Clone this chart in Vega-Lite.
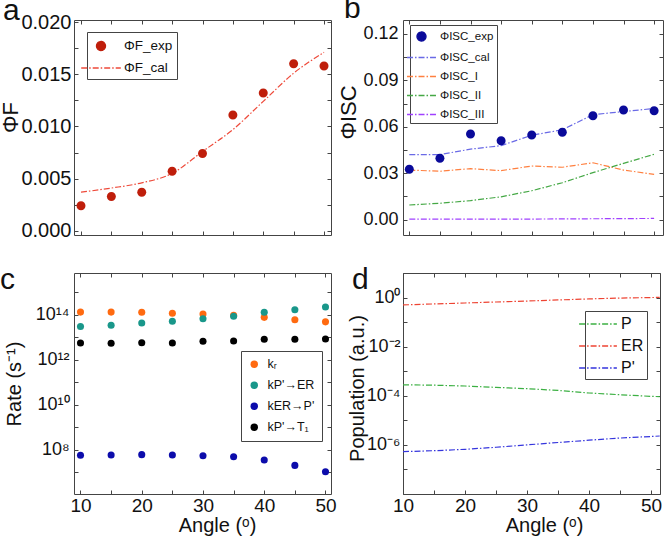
{
  "$schema": "https://vega.github.io/schema/vega-lite/v6.json",
  "autosize": {"type": "none"},
  "padding": {"left": 74, "top": 20, "right": 590, "bottom": 516},
  "config": {
    "font": "Liberation Sans",
    "view": {"stroke": "#444", "strokeWidth": 1},
    "axis": {"domain": false, "grid": false, "tickSize": -4, "tickColor": "#444", "tickWidth": 1, "labelFontSize": 19, "labelColor": "#111", "titleFontSize": 20, "titleFontWeight": "normal", "titleColor": "#111", "labelFont": "Liberation Sans", "titleFont": "Liberation Sans", "labelFlush": false, "labelOverlap": false},
    "legend": {"strokeColor": "#444", "fillColor": "#ffffff", "labelFont": "Liberation Sans", "labelColor": "#111", "labelLimit": 300},
    "title": {"font": "Liberation Sans", "fontSize": 30, "fontWeight": "normal", "color": "#111", "anchor": "start", "frame": "group", "baseline": "alphabetic"}
  },
  "datasets": {
    "a": [
      {"angle": 10, "series": "ΦF_exp", "value": 0.0024}, {"angle": 15, "series": "ΦF_exp", "value": 0.0033}, {"angle": 20, "series": "ΦF_exp", "value": 0.0037}, {"angle": 25, "series": "ΦF_exp", "value": 0.0057}, {"angle": 30, "series": "ΦF_exp", "value": 0.0074}, {"angle": 35, "series": "ΦF_exp", "value": 0.0111}, {"angle": 40, "series": "ΦF_exp", "value": 0.0132}, {"angle": 45, "series": "ΦF_exp", "value": 0.0160}, {"angle": 50, "series": "ΦF_exp", "value": 0.0158},
      {"angle": 10, "series": "ΦF_cal", "value": 0.0037}, {"angle": 15, "series": "ΦF_cal", "value": 0.0041}, {"angle": 20, "series": "ΦF_cal", "value": 0.0046}, {"angle": 25, "series": "ΦF_cal", "value": 0.0055}, {"angle": 30, "series": "ΦF_cal", "value": 0.0076}, {"angle": 35, "series": "ΦF_cal", "value": 0.0097}, {"angle": 40, "series": "ΦF_cal", "value": 0.0124}, {"angle": 45, "series": "ΦF_cal", "value": 0.0151}, {"angle": 50, "series": "ΦF_cal", "value": 0.0171}
    ],
    "b": [
      {"angle": 10, "series": "ΦISC_exp", "value": 0.0325}, {"angle": 15, "series": "ΦISC_exp", "value": 0.0396}, {"angle": 20, "series": "ΦISC_exp", "value": 0.0553}, {"angle": 25, "series": "ΦISC_exp", "value": 0.0510}, {"angle": 30, "series": "ΦISC_exp", "value": 0.0546}, {"angle": 35, "series": "ΦISC_exp", "value": 0.0564}, {"angle": 40, "series": "ΦISC_exp", "value": 0.0671}, {"angle": 45, "series": "ΦISC_exp", "value": 0.0708}, {"angle": 50, "series": "ΦISC_exp", "value": 0.0703},
      {"angle": 10, "series": "ΦISC_cal", "value": 0.0420}, {"angle": 15, "series": "ΦISC_cal", "value": 0.0420}, {"angle": 20, "series": "ΦISC_cal", "value": 0.0455}, {"angle": 25, "series": "ΦISC_cal", "value": 0.0478}, {"angle": 30, "series": "ΦISC_cal", "value": 0.0545}, {"angle": 35, "series": "ΦISC_cal", "value": 0.0580}, {"angle": 40, "series": "ΦISC_cal", "value": 0.0678}, {"angle": 45, "series": "ΦISC_cal", "value": 0.0698}, {"angle": 50, "series": "ΦISC_cal", "value": 0.0718},
      {"angle": 10, "series": "ΦISC_I", "value": 0.0320}, {"angle": 15, "series": "ΦISC_I", "value": 0.0312}, {"angle": 20, "series": "ΦISC_I", "value": 0.0329}, {"angle": 25, "series": "ΦISC_I", "value": 0.0316}, {"angle": 30, "series": "ΦISC_I", "value": 0.0346}, {"angle": 35, "series": "ΦISC_I", "value": 0.0338}, {"angle": 40, "series": "ΦISC_I", "value": 0.0367}, {"angle": 45, "series": "ΦISC_I", "value": 0.0320}, {"angle": 50, "series": "ΦISC_I", "value": 0.0292},
      {"angle": 10, "series": "ΦISC_II", "value": 0.0094}, {"angle": 15, "series": "ΦISC_II", "value": 0.0105}, {"angle": 20, "series": "ΦISC_II", "value": 0.0122}, {"angle": 25, "series": "ΦISC_II", "value": 0.0147}, {"angle": 30, "series": "ΦISC_II", "value": 0.0186}, {"angle": 35, "series": "ΦISC_II", "value": 0.0238}, {"angle": 40, "series": "ΦISC_II", "value": 0.0303}, {"angle": 45, "series": "ΦISC_II", "value": 0.0363}, {"angle": 50, "series": "ΦISC_II", "value": 0.0422},
      {"angle": 10, "series": "ΦISC_III", "value": 0.0002}, {"angle": 15, "series": "ΦISC_III", "value": 0.0002}, {"angle": 20, "series": "ΦISC_III", "value": 0.0003}, {"angle": 25, "series": "ΦISC_III", "value": 0.0003}, {"angle": 30, "series": "ΦISC_III", "value": 0.0003}, {"angle": 35, "series": "ΦISC_III", "value": 0.0004}, {"angle": 40, "series": "ΦISC_III", "value": 0.0005}, {"angle": 45, "series": "ΦISC_III", "value": 0.0006}, {"angle": 50, "series": "ΦISC_III", "value": 0.0007}
    ],
    "c": [
      {"angle": 10, "series": "kᵣ", "value": 1.3e14}, {"angle": 15, "series": "kᵣ", "value": 1.3e14}, {"angle": 20, "series": "kᵣ", "value": 1.28e14}, {"angle": 25, "series": "kᵣ", "value": 1.15e14}, {"angle": 30, "series": "kᵣ", "value": 1.07e14}, {"angle": 35, "series": "kᵣ", "value": 9.4e13}, {"angle": 40, "series": "kᵣ", "value": 7.6e13}, {"angle": 45, "series": "kᵣ", "value": 6.0e13}, {"angle": 50, "series": "kᵣ", "value": 4.8e13},
      {"angle": 10, "series": "kP'→ER", "value": 3.0e13}, {"angle": 15, "series": "kP'→ER", "value": 3.4e13}, {"angle": 20, "series": "kP'→ER", "value": 4.3e13}, {"angle": 25, "series": "kP'→ER", "value": 5.1e13}, {"angle": 30, "series": "kP'→ER", "value": 6.6e13}, {"angle": 35, "series": "kP'→ER", "value": 8.5e13}, {"angle": 40, "series": "kP'→ER", "value": 1.29e14}, {"angle": 45, "series": "kP'→ER", "value": 1.66e14}, {"angle": 50, "series": "kP'→ER", "value": 2.2e14},
      {"angle": 10, "series": "kER→P'", "value": 5.6e7}, {"angle": 15, "series": "kER→P'", "value": 5.8e7}, {"angle": 20, "series": "kER→P'", "value": 6.0e7}, {"angle": 25, "series": "kER→P'", "value": 5.8e7}, {"angle": 30, "series": "kER→P'", "value": 5.4e7}, {"angle": 35, "series": "kER→P'", "value": 4.8e7}, {"angle": 40, "series": "kER→P'", "value": 3.5e7}, {"angle": 45, "series": "kER→P'", "value": 2.0e7}, {"angle": 50, "series": "kER→P'", "value": 1.05e7},
      {"angle": 10, "series": "kP'→T₁", "value": 5.5e12}, {"angle": 15, "series": "kP'→T₁", "value": 5.4e12}, {"angle": 20, "series": "kP'→T₁", "value": 5.7e12}, {"angle": 25, "series": "kP'→T₁", "value": 5.5e12}, {"angle": 30, "series": "kP'→T₁", "value": 6.6e12}, {"angle": 35, "series": "kP'→T₁", "value": 6.8e12}, {"angle": 40, "series": "kP'→T₁", "value": 8.1e12}, {"angle": 45, "series": "kP'→T₁", "value": 8.1e12}, {"angle": 50, "series": "kP'→T₁", "value": 8.3e12}
    ],
    "d": [
      {"angle": 10, "series": "P", "value": 2.8e-4}, {"angle": 15, "series": "P", "value": 2.7e-4}, {"angle": 20, "series": "P", "value": 2.5e-4}, {"angle": 25, "series": "P", "value": 2.2e-4}, {"angle": 30, "series": "P", "value": 1.95e-4}, {"angle": 35, "series": "P", "value": 1.65e-4}, {"angle": 40, "series": "P", "value": 1.3e-4}, {"angle": 45, "series": "P", "value": 1.1e-4}, {"angle": 50, "series": "P", "value": 9.5e-5}, {"angle": 51.4, "series": "P", "value": 9.2e-5},
      {"angle": 10, "series": "ER", "value": 0.5}, {"angle": 15, "series": "ER", "value": 0.55}, {"angle": 20, "series": "ER", "value": 0.6}, {"angle": 25, "series": "ER", "value": 0.66}, {"angle": 30, "series": "ER", "value": 0.72}, {"angle": 35, "series": "ER", "value": 0.8}, {"angle": 40, "series": "ER", "value": 0.88}, {"angle": 45, "series": "ER", "value": 0.95}, {"angle": 50, "series": "ER", "value": 1.0}, {"angle": 51.4, "series": "ER", "value": 1.02},
      {"angle": 10, "series": "P'", "value": 5.3e-7}, {"angle": 15, "series": "P'", "value": 5.8e-7}, {"angle": 20, "series": "P'", "value": 6.6e-7}, {"angle": 25, "series": "P'", "value": 8.0e-7}, {"angle": 30, "series": "P'", "value": 1.0e-6}, {"angle": 35, "series": "P'", "value": 1.25e-6}, {"angle": 40, "series": "P'", "value": 1.55e-6}, {"angle": 45, "series": "P'", "value": 1.9e-6}, {"angle": 50, "series": "P'", "value": 2.2e-6}, {"angle": 51.4, "series": "P'", "value": 2.3e-6}
    ]
  },
  "columns": 2,
  "spacing": {"row": 38, "column": 72},
  "bounds": "flush",
  "resolve": {
    "scale": {"color": "independent", "shape": "independent", "strokeDash": "independent", "size": "independent"},
    "legend": {"color": "independent", "shape": "independent", "strokeDash": "independent", "size": "independent"}
  },
  "concat": [
    {
      "width": 257, "height": 215,
      "title": {"text": "a", "dx": -71, "offset": -13, "dy": 1},
      "data": {"name": "a"},
      "resolve": {"axis": {"x": "independent", "y": "independent"}},
      "layer": [
        {
          "transform": [{"filter": "datum.series === 'ΦF_cal'"}],
          "mark": {"type": "line", "strokeWidth": 1.2, "interpolate": "monotone"},
          "encoding": {
            "x": {"field": "angle", "type": "quantitative", "scale": {"domain": [8.85, 51.15]}, "axis": {"orient": "top", "labels": false, "title": null, "values": [10, 15, 20, 25, 30, 35, 40, 45, 50]}},
            "y": {"field": "value", "type": "quantitative", "scale": {"domain": [-0.0004, 0.0202]}, "axis": {"orient": "right", "labels": false, "title": null, "values": [0, 0.0025, 0.005, 0.0075, 0.01, 0.0125, 0.015, 0.0175, 0.02]}},
            "color": {"field": "series", "type": "nominal", "scale": {"domain": ["ΦF_exp", "ΦF_cal"], "range": ["#bf1e0b", "#ee4a3a"]}, "legend": {"title": null, "orient": "none", "legendX": 13, "legendY": 12, "padding": 4, "rowPadding": 4, "labelFontSize": 13.5, "symbolSize": 324, "symbolStrokeWidth": 1.3, "labelOffset": 13}},
            "strokeDash": {"field": "series", "type": "nominal", "scale": {"domain": ["ΦF_exp", "ΦF_cal"], "range": [[1, 0], [6, 2, 1.5, 2]]}, "legend": {"title": null, "orient": "none", "legendX": 13, "legendY": 12, "padding": 4, "rowPadding": 4, "labelFontSize": 13.5, "symbolSize": 324, "symbolStrokeWidth": 1.3, "labelOffset": 13}}
          }
        },
        {
          "transform": [{"filter": "datum.series === 'ΦF_exp'"}],
          "mark": {"type": "point", "filled": true, "opacity": 1, "size": 324},
          "encoding": {
            "x": {"field": "angle", "type": "quantitative", "scale": {"domain": [8.85, 51.15]}, "axis": {"orient": "bottom", "labels": false, "title": null, "values": [10, 15, 20, 25, 30, 35, 40, 45, 50]}},
            "y": {"field": "value", "type": "quantitative", "scale": {"domain": [-0.0004, 0.0202]}, "axis": {"orient": "left", "values": [0, 0.0025, 0.005, 0.0075, 0.01, 0.0125, 0.015, 0.0175, 0.02], "labelExpr": "round(datum.value*1000) % 5 === 0 ? format(datum.value, '.3f') : ''", "labelFontSize": 20, "labelPadding": 7, "title": "ΦF", "titleX": -64, "titleY": 97, "titleBaseline": "middle", "titleFontSize": 22}},
            "color": {"field": "series", "type": "nominal", "scale": {"domain": ["ΦF_exp", "ΦF_cal"], "range": ["#bf1e0b", "#ee4a3a"]}, "legend": {"title": null, "orient": "none", "legendX": 13, "legendY": 12, "padding": 4, "rowPadding": 4, "labelFontSize": 13.5, "symbolSize": 324, "symbolStrokeWidth": 1.3, "labelOffset": 13}},
            "shape": {"field": "series", "type": "nominal", "scale": {"domain": ["ΦF_exp", "ΦF_cal"], "range": ["M0.5,0A0.5,0.5,0,1,1,-0.5,0A0.5,0.5,0,1,1,0.5,0Z", "M-2.2,0L2.2,0"]}, "legend": {"title": null, "orient": "none", "legendX": 13, "legendY": 12, "padding": 4, "rowPadding": 4, "labelFontSize": 13.5, "symbolSize": 324, "symbolStrokeWidth": 1.3, "labelOffset": 13}}
          }
        }
      ]
    },
    {
      "width": 260, "height": 215,
      "title": {"text": "b", "dx": -59, "offset": -8, "dy": -4},
      "data": {"name": "b"},
      "resolve": {"axis": {"x": "independent", "y": "independent"}},
      "layer": [
        {
          "transform": [{"filter": "datum.series !== 'ΦISC_exp'"}],
          "mark": {"type": "line", "strokeWidth": 1.2},
          "encoding": {
            "x": {"field": "angle", "type": "quantitative", "scale": {"domain": [8.97, 51.45]}, "axis": {"orient": "top", "labels": false, "title": null, "values": [10, 15, 20, 25, 30, 35, 40, 45, 50]}},
            "y": {"field": "value", "type": "quantitative", "scale": {"domain": [-0.01, 0.129]}, "axis": {"orient": "right", "labels": false, "title": null, "values": [0, 0.015, 0.03, 0.045, 0.06, 0.075, 0.09, 0.105, 0.12]}},
            "color": {"field": "series", "type": "nominal", "scale": {"domain": ["ΦISC_exp", "ΦISC_cal", "ΦISC_I", "ΦISC_II", "ΦISC_III"], "range": ["#0a0a9a", "#6a6ae6", "#ff8040", "#45a845", "#a040ff"]}, "legend": {"title": null, "orient": "none", "legendX": 7, "legendY": 5, "padding": 3, "rowPadding": 5, "labelFontSize": 11.5, "symbolSize": 225, "symbolStrokeWidth": 1.3, "labelOffset": 10}},
            "strokeDash": {"field": "series", "type": "nominal", "scale": {"domain": ["ΦISC_exp", "ΦISC_cal", "ΦISC_I", "ΦISC_II", "ΦISC_III"], "range": [[1, 0], [6, 2, 1.5, 2], [6, 2, 1.5, 2], [6, 2, 1.5, 2], [6, 2, 1.5, 2]]}, "legend": {"title": null, "orient": "none", "legendX": 7, "legendY": 5, "padding": 3, "rowPadding": 5, "labelFontSize": 11.5, "symbolSize": 225, "symbolStrokeWidth": 1.3, "labelOffset": 10}}
          }
        },
        {
          "transform": [{"filter": "datum.series === 'ΦISC_exp'"}],
          "mark": {"type": "point", "filled": true, "opacity": 1, "size": 225},
          "encoding": {
            "x": {"field": "angle", "type": "quantitative", "scale": {"domain": [8.97, 51.45]}, "axis": {"orient": "bottom", "labels": false, "title": null, "values": [10, 15, 20, 25, 30, 35, 40, 45, 50]}},
            "y": {"field": "value", "type": "quantitative", "scale": {"domain": [-0.01, 0.129]}, "axis": {"orient": "left", "values": [0, 0.015, 0.03, 0.045, 0.06, 0.075, 0.09, 0.105, 0.12], "labelExpr": "round(datum.value*1000) % 30 === 0 ? format(datum.value, '.2f') : ''", "labelFontSize": 18, "labelPadding": 9, "title": "ΦISC", "titleX": -55, "titleY": 92, "titleBaseline": "middle", "titleFontSize": 22}},
            "color": {"field": "series", "type": "nominal", "scale": {"domain": ["ΦISC_exp", "ΦISC_cal", "ΦISC_I", "ΦISC_II", "ΦISC_III"], "range": ["#0a0a9a", "#6a6ae6", "#ff8040", "#45a845", "#a040ff"]}, "legend": {"title": null, "orient": "none", "legendX": 7, "legendY": 5, "padding": 3, "rowPadding": 5, "labelFontSize": 11.5, "symbolSize": 225, "symbolStrokeWidth": 1.3, "labelOffset": 10}},
            "shape": {"field": "series", "type": "nominal", "scale": {"domain": ["ΦISC_exp", "ΦISC_cal", "ΦISC_I", "ΦISC_II", "ΦISC_III"], "range": ["M0.6,0A0.6,0.6,0,1,1,-0.6,0A0.6,0.6,0,1,1,0.6,0Z", "M-1.93,0L1.93,0", "M-1.93,0L1.93,0", "M-1.93,0L1.93,0", "M-1.93,0L1.93,0"]}, "legend": {"title": null, "orient": "none", "legendX": 7, "legendY": 5, "padding": 3, "rowPadding": 5, "labelFontSize": 11.5, "symbolSize": 225, "symbolStrokeWidth": 1.3, "labelOffset": 10}}
          }
        }
      ]
    },
    {
      "width": 257, "height": 221,
      "title": {"text": "c", "dx": -74, "offset": -22},
      "data": {"name": "c"},
      "resolve": {"axis": {"x": "independent", "y": "independent"}},
      "layer": [
        {
          "mark": {"type": "point", "filled": true, "opacity": 1, "size": 50},
          "encoding": {
            "x": {"field": "angle", "type": "quantitative", "scale": {"domain": [8.94, 50.9]}, "axis": {"orient": "bottom", "values": [10, 15, 20, 25, 30, 35, 40, 45, 50], "labelExpr": "datum.value % 10 === 0 ? datum.label : ''", "labelBaseline": "middle", "labelPadding": 15, "title": "Angle (ᵒ)", "titleX": 143, "titleY": 31, "titleBaseline": "middle"}},
            "y": {"field": "value", "type": "quantitative", "scale": {"type": "log", "domain": [1.07e6, 7.13e15]}, "axis": {"orient": "left", "values": [1e7, 1e8, 1e9, 1e10, 1e11, 1e12, 1e13, 1e14, 1e15], "labelExpr": "round(log(datum.value)/LN10) === 14 ? '10¹⁴' : round(log(datum.value)/LN10) === 12 ? '10¹²' : round(log(datum.value)/LN10) === 10 ? '10¹⁰' : round(log(datum.value)/LN10) === 8 ? '10⁸' : ''", "labelFontSize": 18, "labelPadding": 9, "title": "Rate (s⁻¹)", "titleX": -60, "titleBaseline": "middle"}},
            "color": {"field": "series", "type": "nominal", "scale": {"domain": ["kᵣ", "kP'→ER", "kER→P'", "kP'→T₁"], "range": ["#ff6a10", "#19978a", "#0c0cab", "#000000"]}, "legend": {"title": null, "orient": "none", "legendX": 167, "legendY": 78, "padding": 7, "rowPadding": 8, "labelFontSize": 12.5, "symbolSize": 55, "symbolType": "circle", "labelOffset": 7}}
          }
        },
        {
          "mark": {"type": "point", "opacity": 0},
          "encoding": {
            "x": {"field": "angle", "type": "quantitative", "scale": {"domain": [8.94, 50.9]}, "axis": {"orient": "top", "labels": false, "title": null, "values": [10, 15, 20, 25, 30, 35, 40, 45, 50]}},
            "y": {"field": "value", "type": "quantitative", "scale": {"type": "log", "domain": [1.07e6, 7.13e15]}, "axis": {"orient": "right", "labels": false, "title": null, "values": [1e7, 1e8, 1e9, 1e10, 1e11, 1e12, 1e13, 1e14, 1e15]}}
          }
        }
      ]
    },
    {
      "width": 257, "height": 221,
      "title": {"text": "d", "dx": -51, "offset": -24, "dy": 7},
      "data": {"name": "d"},
      "resolve": {"axis": {"x": "independent", "y": "independent"}},
      "layer": [
        {
          "mark": {"type": "line", "strokeWidth": 1.2},
          "encoding": {
            "x": {"field": "angle", "type": "quantitative", "scale": {"domain": [10, 51.45]}, "axis": {"orient": "bottom", "values": [10, 15, 20, 25, 30, 35, 40, 45, 50], "labelExpr": "datum.value % 10 === 0 ? datum.label : ''", "labelBaseline": "middle", "labelPadding": 15, "title": "Angle (ᵒ)", "titleX": 141, "titleY": 31, "titleBaseline": "middle"}},
            "y": {"field": "value", "type": "quantitative", "scale": {"type": "log", "domain": [1e-8, 10]}, "axis": {"orient": "left", "values": [1e-8, 1e-7, 1e-6, 1e-5, 1e-4, 1e-3, 1e-2, 1e-1, 1, 10], "labelExpr": "round(log(datum.value)/LN10) === 0 ? '10⁰' : round(log(datum.value)/LN10) === -2 ? '10⁻²' : round(log(datum.value)/LN10) === -4 ? '10⁻⁴' : round(log(datum.value)/LN10) === -6 ? '10⁻⁶' : ''", "labelFontSize": 18, "labelPadding": 7, "title": "Population (a.u.)", "titleX": -46, "titleY": 115, "titleBaseline": "middle"}},
            "color": {"field": "series", "type": "nominal", "scale": {"domain": ["P", "ER", "P'"], "range": ["#3cb043", "#ee4433", "#3535dd"]}, "legend": {"title": null, "orient": "none", "legendX": 182, "legendY": 38, "padding": 3, "rowPadding": 4, "labelFontSize": 16, "symbolSize": 324, "symbolType": "M-2.1,0L2.1,0", "symbolStrokeWidth": 1.3, "labelOffset": 13}},
            "strokeDash": {"field": "series", "type": "nominal", "scale": {"domain": ["P", "ER", "P'"], "range": [[6, 2, 1.5, 2], [6, 2, 1.5, 2], [6, 2, 1.5, 2]]}, "legend": {"title": null, "orient": "none", "legendX": 182, "legendY": 38, "padding": 3, "rowPadding": 4, "labelFontSize": 16, "symbolSize": 324, "symbolType": "M-2.1,0L2.1,0", "symbolStrokeWidth": 1.3, "labelOffset": 13}}
          }
        },
        {
          "mark": {"type": "point", "opacity": 0},
          "encoding": {
            "x": {"field": "angle", "type": "quantitative", "scale": {"domain": [10, 51.45]}, "axis": {"orient": "top", "labels": false, "title": null, "values": [10, 15, 20, 25, 30, 35, 40, 45, 50]}},
            "y": {"field": "value", "type": "quantitative", "scale": {"type": "log", "domain": [1e-8, 10]}, "axis": {"orient": "right", "labels": false, "title": null, "values": [1e-8, 1e-7, 1e-6, 1e-5, 1e-4, 1e-3, 1e-2, 1e-1, 1, 10]}}
          }
        }
      ]
    }
  ]
}
